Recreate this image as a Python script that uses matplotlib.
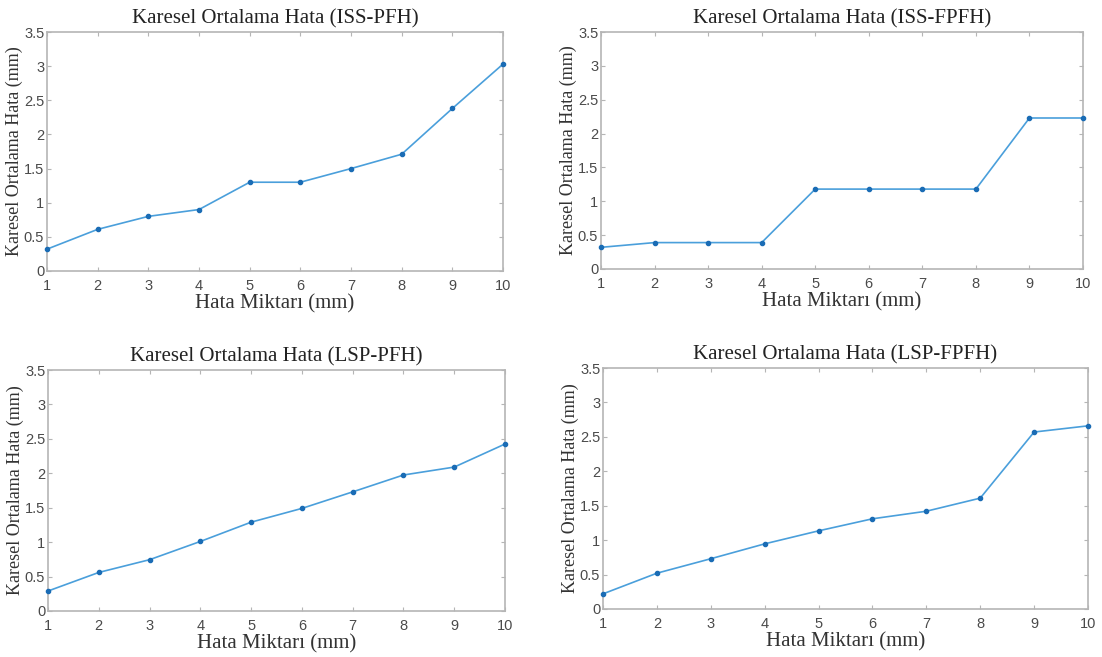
import matplotlib
matplotlib.use("Agg")
import matplotlib.pyplot as plt

x_vals = [1, 2, 3, 4, 5, 6, 7, 8, 9, 10]
iss_pfh = [0.32, 0.61, 0.80, 0.90, 1.30, 1.30, 1.50, 1.71, 2.38, 3.03]
iss_fpfh = [0.32, 0.39, 0.39, 0.39, 1.18, 1.18, 1.18, 1.18, 2.23, 2.23]
lsp_pfh = [0.29, 0.56, 0.745, 1.01, 1.29, 1.49, 1.73, 1.975, 2.09, 2.425]
lsp_fpfh = [0.22, 0.52, 0.73, 0.946, 1.135, 1.31, 1.42, 1.61, 2.57, 2.66]
titles = ["Karesel Ortalama Hata (ISS-PFH)", "Karesel Ortalama Hata (ISS-FPFH)",
          "Karesel Ortalama Hata (LSP-PFH)", "Karesel Ortalama Hata (LSP-FPFH)"]
xlabel = "Hata Miktarı (mm)"
ylabel = "Karesel Ortalama Hata (mm)"
y_ticks = [0, 0.5, 1, 1.5, 2, 2.5, 3, 3.5]
y_ticklabels = ["0", "0.5", "1", "1.5", "2", "2.5", "3", "3.5"]

W, H = 1102, 657
fig = plt.figure(figsize=(W / 100, H / 100), dpi=100)

# pixel boxes: left, right, top, bottom
boxes = [(47, 503, 32, 271), (601, 1083, 32, 269),
         (48, 505, 370, 611), (603, 1088, 368, 609)]
series = [iss_pfh, iss_fpfh, lsp_pfh, lsp_fpfh]

serif = ["Liberation Serif", "DejaVu Serif"]
sans = ["Liberation Sans", "DejaVu Sans"]

for (l, r, t, b), ys, title in zip(boxes, series, titles):
    ax = fig.add_axes([l / W, 1 - b / H, (r - l) / W, (b - t) / H])
    ax.plot(x_vals, ys, color="#4a9fdb", lw=1.2, marker=".", ms=6,
            mfc="#1a6cb5", mec="#1a6cb5", clip_on=False, zorder=3)
    ax.set_xlim(1, 10)
    ax.set_ylim(0, 3.5)
    ax.set_xticks(x_vals)
    ax.set_xticklabels([str(v) for v in x_vals], family=sans, fontsize=10.5, color="#4a4a4a")
    ax.set_yticks(y_ticks)
    ax.set_yticklabels(y_ticklabels, family=sans, fontsize=10.5, color="#4a4a4a")
    ax.tick_params(axis="x", direction="in", length=3, width=0.8, color="#b5b5b5",
                   top=True, pad=6)
    ax.tick_params(axis="y", direction="in", length=3, width=0.8, color="#b5b5b5",
                   right=True, pad=2)
    for s in ax.spines.values():
        s.set_color("#b5b5b5")
        s.set_linewidth(1.2)
    ax.set_title(title, family=serif, fontsize=15, color="#222222", pad=6)
    ax.set_xlabel(xlabel, family=serif, fontsize=15, color="#333333", labelpad=1)
    ax.set_ylabel(ylabel, family=serif, fontsize=13, color="#333333", labelpad=0.5)

fig.savefig("out.png", dpi=100)
